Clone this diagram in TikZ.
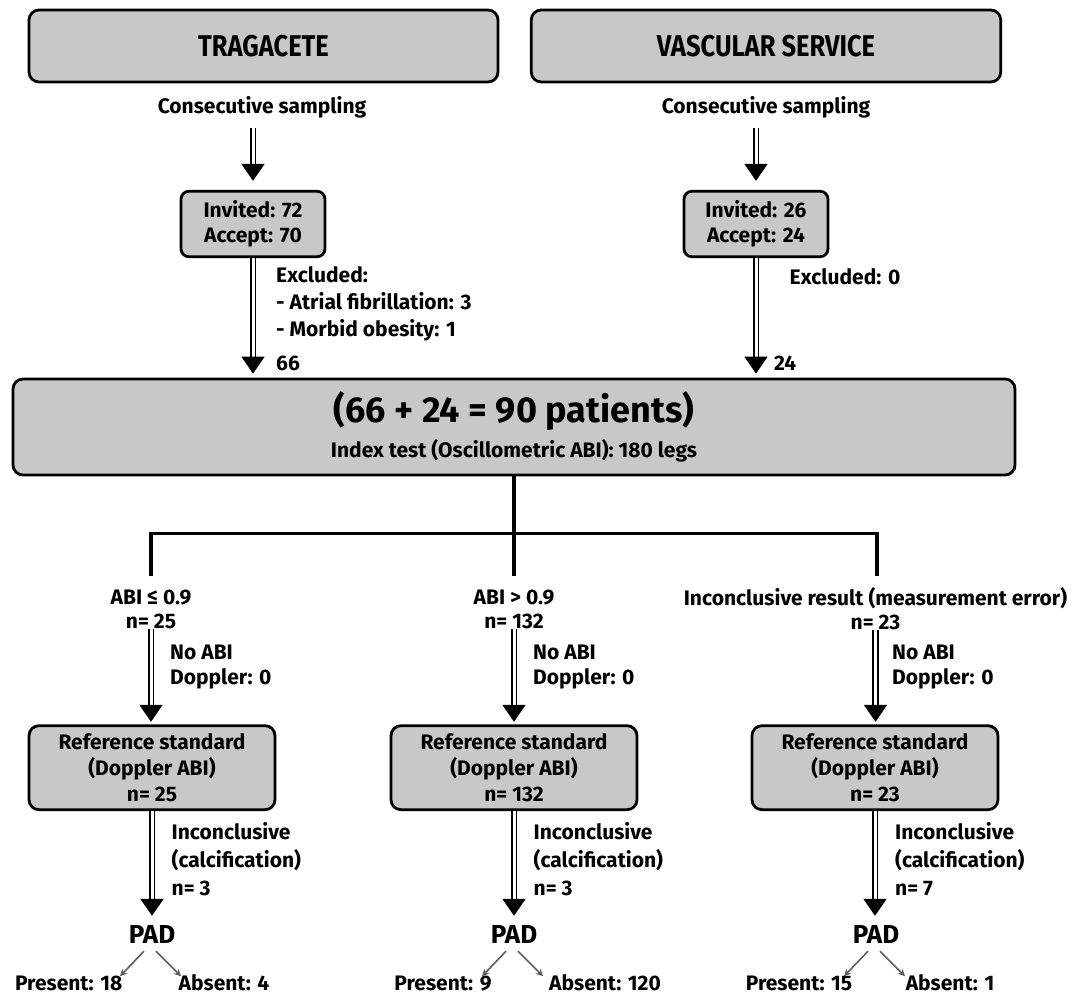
\documentclass[tikz,border=0pt]{standalone}
\usepackage{fontspec}
\setmainfont{Fira Sans}
\newfontfamily\condfont{Fira Sans}[FakeStretch=0.85]
\usetikzlibrary{arrows.meta}
\definecolor{boxgray}{RGB}{200,200,200}
\definecolor{pgray}{RGB}{95,95,95}
\tikzset{
  body/.style={font=\bfseries\fontsize{21}{26}\selectfont},
  box/.style={draw=black, line width=2.8pt, fill=boxgray, rounded corners=10pt, inner sep=0pt, align=center, body},
  lbl/.style={inner sep=0pt, align=center, body},
  lbll/.style={inner sep=0pt, align=left, anchor=west, body},
  title/.style={font=\condfont\bfseries\fontsize{30}{36}\selectfont},
  dbl/.style={line width=1.7pt, double=white, double distance=3pt, -{Triangle[length=17pt,width=23pt]}},
  tree/.style={line width=3.2pt},
  padarr/.style={draw=pgray, line width=1.6pt, -{Stealth[length=7pt,width=7pt]}},
}
\begin{document}
\begin{tikzpicture}[x=1pt,y=-1pt]
\useasboundingbox (0,0) rectangle (1086,997);
% top boxes
\node[box, minimum width=469pt, minimum height=72pt, title] (trag) at (263.5,46) {TRAGACETE};
\node[box, minimum width=469.5pt, minimum height=72pt, title] (vasc) at (766,46) {VASCULAR SERVICE};
\node[lbl] (cs1) at (262,107) {Consecutive sampling};
\node[lbl] (cs2) at (766,107) {Consecutive sampling};
\node[box, rounded corners=8pt, minimum width=144pt, minimum height=65.5pt, font=\bfseries\fontsize{21}{25.5}\selectfont] (inv1) at (253,224) {Invited: 72\\Accept: 70};
\node[box, rounded corners=8pt, minimum width=144pt, minimum height=65.5pt, font=\bfseries\fontsize{21}{25.5}\selectfont] (inv2) at (756,224) {Invited: 26\\Accept: 24};
\draw[dbl, shorten <=10pt, shorten >=9pt] (cs1.south -| inv1.north) -- (inv1.north);
\draw[dbl, shorten <=10pt, shorten >=9pt] (cs2.south -| inv2.north) -- (inv2.north);
% main box
\node[box, minimum width=1002pt, minimum height=96pt] (main) at (514,427) {};
\node[inner sep=0pt, anchor=base, font=\bfseries\fontsize{36}{40}\selectfont] (mt1) at (514,422) {(66 + 24 = 90 patients)};
\node[inner sep=0pt, anchor=base, body] (mt2) at (514,457) {Index test (Oscillometric ABI): 180 legs};
\draw[dbl, shorten >=4pt] (inv1.south) -- (inv1.south |- main.north);
\draw[dbl, shorten >=4pt] (inv2.south) -- (inv2.south |- main.north);
\node[lbll, font=\bfseries\fontsize{21}{27}\selectfont] (exc1) at (276,304) {Excluded:\\- Atrial fibrillation: 3\\- Morbid obesity: 1};
\node[lbll] (n66) at (276,363) {66};
\node[lbll] (exc2) at (789.5,277) {Excluded: 0};
\node[lbll] (n24) at (774,363) {24};
% tree
\coordinate (j) at (514,533.6);
\coordinate (b1) at (151,576);
\coordinate (b2) at (514,576);
\coordinate (b3) at (877,576);
\draw[tree] (main.south) -- (b2);
\draw[tree] (b1) |- (j) -| (b3);
\node[lbl, font=\bfseries\fontsize{21}{24}\selectfont] (abi1) at (151,609) {ABI ≤ 0.9\\n= 25};
\node[lbl, font=\bfseries\fontsize{21}{24}\selectfont] (abi2) at (514,609) {ABI > 0.9\\n= 132};
\node[lbl, font=\bfseries\fontsize{21}{24}\selectfont] (abi3) at (875.5,609) {Inconclusive result (measurement error)\\n= 23};
% reference boxes
\node[box, minimum width=246pt, minimum height=84pt] (ref1) at (152,767.7) {Reference standard\\(Doppler ABI)\\n= 25};
\node[box, minimum width=246pt, minimum height=84pt] (ref2) at (514,767.7) {Reference standard\\(Doppler ABI)\\n= 132};
\node[box, minimum width=246pt, minimum height=84pt] (ref3) at (875,767.7) {Reference standard\\(Doppler ABI)\\n= 23};
\draw[dbl, shorten >=2.5pt] (abi1.south) -- (abi1.south |- ref1.north);
\draw[dbl, shorten >=2.5pt] (abi2.south) -- (abi2.south |- ref2.north);
\draw[dbl, shorten >=2.5pt] (abi3.south) -- (abi3.south |- ref3.north);
\node[lbll, font=\bfseries\fontsize{21}{24.5}\selectfont] (no1) at (170,667) {No ABI\\Doppler: 0};
\node[lbll, font=\bfseries\fontsize{21}{24.5}\selectfont] (no2) at (533,667) {No ABI\\Doppler: 0};
\node[lbll, font=\bfseries\fontsize{21}{24.5}\selectfont] (no3) at (892,667) {No ABI\\Doppler: 0};
% PAD
\node[inner sep=0pt, font=\bfseries\fontsize{26}{30}\selectfont] (pad1) at (152,934) {PAD};
\node[inner sep=0pt, font=\bfseries\fontsize{26}{30}\selectfont] (pad2) at (514,934) {PAD};
\node[inner sep=0pt, font=\bfseries\fontsize{26}{30}\selectfont] (pad3) at (876,934) {PAD};
\draw[dbl, shorten >=9pt] (ref1.south) -- (ref1.south |- pad1.north);
\draw[dbl, shorten >=9pt] (ref2.south) -- (ref2.south |- pad2.north);
\draw[dbl, shorten >=9pt] (ref3.south) -- (ref3.south |- pad3.north);
\node[lbll, font=\bfseries\fontsize{21}{28}\selectfont] (inc1) at (171.5,858.7) {Inconclusive\\(calcification)\\n= 3};
\node[lbll, font=\bfseries\fontsize{21}{28}\selectfont] (inc2) at (533.5,858.7) {Inconclusive\\(calcification)\\n= 3};
\node[lbll, font=\bfseries\fontsize{21}{28}\selectfont] (inc3) at (895,858.7) {Inconclusive\\(calcification)\\n= 7};
% outcomes
\node[lbl] (pres1) at (68.7,983) {Present: 18};
\node[lbl] (abs1) at (224,983) {Absent: 4};
\node[lbl] (pres2) at (443,983) {Present: 9};
\node[lbl] (abs2) at (605,983) {Absent: 120};
\node[lbl] (pres3) at (799,983) {Present: 15};
\node[lbl] (abs3) at (950,983) {Absent: 1};
\draw[padarr] (pad1.south) ++(-8,8) -- ++(-24,25);
\draw[padarr] (pad1.south) ++(4,8) -- ++(25,25);
\draw[padarr] (pad2.south) ++(-8,8) -- ++(-24,25);
\draw[padarr] (pad2.south) ++(4,8) -- ++(25,25);
\draw[padarr] (pad3.south) ++(-8,8) -- ++(-24,25);
\draw[padarr] (pad3.south) ++(4,8) -- ++(25,25);
\end{tikzpicture}
\end{document}
